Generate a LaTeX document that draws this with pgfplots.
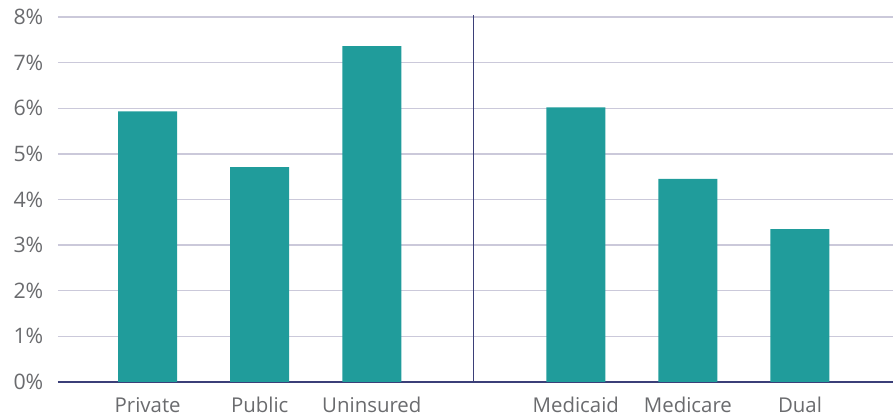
\documentclass[border=0pt]{standalone}
\usepackage{pgfplots}
\pgfplotsset{compat=1.18}
\usepackage{fontspec}
\setmainfont{Open Sans}
\definecolor{barc}{HTML}{209C9B}
\definecolor{gridc}{HTML}{CBC9DA}
\definecolor{axc}{HTML}{3B3F78}
\definecolor{txt}{HTML}{6A6B6E}
\begin{document}
\begin{tikzpicture}[x=0.75pt,y=0.75pt]
\path[use as bounding box] (-58,-38) rectangle (837,382);
\begin{axis}[
  at={(0,0)}, anchor=south west,
  scale only axis, width=626.25pt, height=273.75pt,
  xmin=-0.80, xmax=6.65, ymin=0, ymax=8,
  axis x line*=bottom, axis y line*=left,
  x axis line style={draw=axc, line width=1.1pt, -},
  y axis line style={draw=none},
  ytick={0,...,8},
  yticklabels={0\%,1\%,2\%,3\%,4\%,5\%,6\%,7\%,8\%},
  ymajorgrids, grid style={draw=gridc, line width=1.1pt},
  xtick={0,1,2,3.82,4.82,5.82},
  xticklabels={Private,Public,Uninsured,Medicaid,Medicare,Dual},
  major tick length=0pt,
  ticklabel style={text=txt, font=\fontsize{15.3}{18}\selectfont},
  yticklabel style={anchor=east, xshift=-7.5pt, font=\fontsize{16}{18}\selectfont},
  xticklabel style={anchor=base, yshift=-23pt},
  ybar, bar width=44.25pt,
  clip=false,
]
\addplot[fill=barc, draw=none] coordinates {(0,5.93) (1,4.71) (2,7.36) (3.82,6.02) (4.82,4.45) (5.82,3.35)};
\addplot[sharp plot, draw=axc, line width=0.9pt, mark=none] coordinates {(2.91,0) (2.91,8.05)};
\end{axis}
\end{tikzpicture}
\end{document}
